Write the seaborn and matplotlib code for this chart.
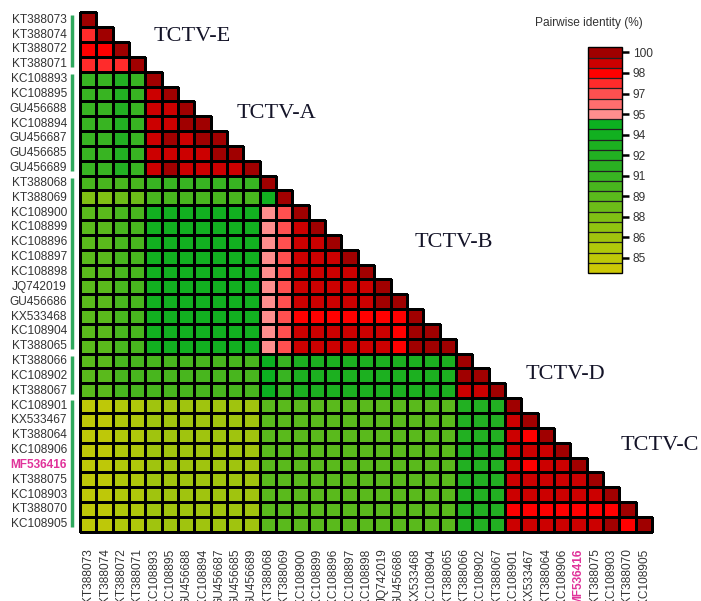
import numpy as np
import pandas as pd
import matplotlib
matplotlib.use("Agg")
import matplotlib.pyplot as plt
import seaborn as sns
from matplotlib.colors import ListedColormap, BoundaryNorm

# ---------------- data ----------------
labels_E = ["KT388073", "KT388074", "KT388072", "KT388071"]
labels_A = ["KC108893", "KC108895", "GU456688", "KC108894", "GU456687", "GU456685", "GU456689"]
labels_B = ["KT388068", "KT388069", "KC108900", "KC108899", "KC108896", "KC108897",
            "KC108898", "JQ742019", "GU456686", "KX533468", "KC108904", "KT388065"]
labels_D = ["KT388066", "KC108902", "KT388067"]
labels_C = ["KC108901", "KX533467", "KT388064", "KC108906", "MF536416", "KT388075",
            "KC108903", "KT388070", "KC108905"]

group_names = ["TCTV-E", "TCTV-A", "TCTV-B", "TCTV-D", "TCTV-C"]
group_label_x = [6.85, 12.0, 22.9, 29.7, 35.5]
group_label_y = [1.6, 6.8, 15.5, 24.4, 29.2]
highlight = "MF536416"

# lower-triangle pairwise identity (%) rows
rows_E = [
    [100.0],
    [97.8, 100.0],
    [98.5, 98.5, 100.0],
    [97.8, 97.8, 98.0, 100.0],
]
rows_A = [
    [91.0, 91.0, 92.5, 91.0, 100.0],
    [91.0, 91.0, 92.5, 91.0, 99.2, 100.0],
    [91.0, 91.0, 92.5, 91.0, 99.2, 99.2, 100.0],
    [91.0, 91.0, 92.5, 91.0, 99.2, 99.2, 99.7, 100.0],
    [91.0, 91.0, 92.5, 91.0, 99.2, 99.7, 99.2, 99.7, 100.0],
    [91.0, 91.0, 92.5, 91.0, 99.2, 99.2, 99.2, 99.2, 99.7, 100.0],
    [91.0, 91.0, 92.5, 91.0, 99.2, 99.7, 99.2, 99.2, 99.2, 99.2, 100.0],
]
rows_B = [
    [90.3, 90.3, 90.3, 90.3, 91.0, 91.0, 91.0, 91.0, 91.0, 91.0, 91.0, 100.0],
    [88.0, 88.0, 88.8, 88.8, 90.3, 90.3, 90.3, 90.3, 90.3, 90.3, 90.3, 93.8, 100.0],
    [89.5, 89.5, 90.3, 90.3, 94.0, 94.0, 94.0, 94.0, 94.0, 94.0, 94.0, 95.5, 97.0, 100.0],
    [89.5, 89.5, 90.3, 90.3, 94.0, 94.0, 94.0, 94.0, 94.0, 94.0, 94.0, 95.5, 97.0, 99.2, 100.0],
    [89.5, 89.5, 90.3, 90.3, 94.0, 94.0, 94.0, 94.0, 94.0, 94.0, 94.0, 95.5, 97.0, 99.2, 99.2, 100.0],
    [89.5, 89.5, 90.3, 90.3, 94.0, 94.0, 94.0, 94.0, 94.0, 94.0, 94.0, 95.5, 97.0, 99.2, 99.2, 99.2, 100.0],
    [89.5, 89.5, 90.3, 90.3, 94.0, 94.0, 94.0, 94.0, 94.0, 94.0, 94.0, 95.5, 97.0, 99.2, 99.2, 99.2, 99.2, 100.0],
    [89.5, 89.5, 90.3, 90.3, 94.0, 94.0, 94.0, 94.0, 94.0, 94.0, 94.0, 95.5, 97.0, 99.2, 99.2, 99.2, 99.2, 99.2, 100.0],
    [89.5, 89.5, 90.3, 90.3, 94.0, 94.0, 94.0, 94.0, 94.0, 94.0, 94.0, 95.5, 97.0, 99.2, 99.2, 99.2, 99.2, 99.2, 99.7, 100.0],
    [89.5, 89.5, 90.3, 90.3, 94.0, 94.0, 94.0, 94.0, 94.0, 94.0, 94.0, 95.4, 97.0, 98.5, 98.5, 98.5, 98.5, 98.5, 98.5, 98.5, 100.0],
    [89.5, 89.5, 90.3, 90.3, 94.0, 94.0, 94.0, 94.0, 94.0, 94.0, 94.0, 95.5, 97.0, 99.2, 99.2, 99.2, 99.2, 99.2, 99.2, 98.5, 99.7, 100.0],
    [89.5, 89.5, 90.3, 90.3, 94.0, 94.0, 94.0, 94.0, 94.0, 94.0, 94.0, 95.5, 97.0, 99.2, 99.2, 99.2, 99.2, 99.2, 99.2, 98.5, 99.7, 99.7, 100.0],
]
rows_D = [
    [89.5, 89.5, 90.3, 90.3, 90.3, 90.3, 90.3, 90.3, 90.3, 90.3, 90.3,
     94.8, 91.0, 93.3, 93.3, 93.3, 93.3, 93.3, 93.3, 93.3, 93.3, 93.3, 93.3, 100.0],
    [89.5, 89.5, 90.3, 90.3, 90.3, 90.3, 90.3, 90.3, 90.3, 90.3, 90.3,
     94.8, 91.0, 93.3, 93.3, 93.3, 93.3, 93.3, 93.3, 93.3, 93.3, 93.3, 93.3, 99.7, 100.0],
    [89.5, 89.5, 90.3, 90.3, 90.3, 90.3, 90.3, 90.3, 90.3, 90.3, 90.3,
     94.8, 91.0, 93.3, 93.3, 93.3, 93.3, 93.3, 93.3, 93.3, 93.3, 93.3, 93.3, 99.2, 99.2, 100.0],
]
rows_C = [
    [85.0, 85.0, 85.8, 85.8, 86.5, 86.5, 86.5, 86.5, 86.5, 86.5, 86.5,
     89.5, 89.5, 89.5, 89.5, 89.5, 89.5, 89.5, 89.5, 89.5, 89.5, 89.5, 89.5,
     92.5, 92.5, 92.5, 100.0],
    [85.0, 85.0, 85.8, 85.8, 86.5, 86.5, 86.5, 86.5, 86.5, 86.5, 86.5,
     89.5, 89.5, 89.5, 89.5, 89.5, 89.5, 89.5, 89.5, 89.5, 89.5, 89.5, 89.5,
     92.5, 92.5, 92.5, 99.2, 100.0],
    [85.0, 85.0, 85.8, 85.8, 86.5, 86.5, 86.5, 86.5, 86.5, 86.5, 86.5,
     89.5, 89.5, 89.5, 89.5, 89.5, 89.5, 89.5, 89.5, 89.5, 89.5, 89.5, 89.5,
     92.5, 92.5, 92.5, 99.2, 98.5, 100.0],
    [85.0, 85.0, 85.8, 85.8, 86.5, 86.5, 86.5, 86.5, 86.5, 86.5, 86.5,
     89.5, 89.5, 89.5, 89.5, 89.5, 89.5, 89.5, 89.5, 89.5, 89.5, 89.5, 89.5,
     92.5, 92.5, 92.5, 99.2, 99.2, 99.2, 100.0],
    [85.0, 85.0, 85.8, 85.8, 86.5, 86.5, 86.5, 86.5, 86.5, 86.5, 86.5,
     89.5, 89.5, 89.5, 89.5, 89.5, 89.5, 89.5, 89.5, 89.5, 89.5, 89.5, 89.5,
     92.5, 92.5, 92.5, 99.2, 98.5, 99.2, 99.2, 100.0],
    [85.0, 85.0, 85.8, 85.8, 86.5, 86.5, 86.5, 86.5, 86.5, 86.5, 86.5,
     89.5, 89.5, 89.5, 89.5, 89.5, 89.5, 89.5, 89.5, 89.5, 89.5, 89.5, 89.5,
     92.5, 92.5, 92.5, 99.2, 99.2, 99.2, 99.2, 99.2, 100.0],
    [85.0, 85.0, 85.8, 85.8, 86.5, 86.5, 86.5, 86.5, 86.5, 86.5, 86.5,
     89.5, 89.5, 89.5, 89.5, 89.5, 89.5, 89.5, 89.5, 89.5, 89.5, 89.5, 89.5,
     92.5, 92.5, 92.5, 99.2, 99.2, 99.2, 99.2, 99.2, 99.2, 100.0],
    [85.0, 85.0, 85.8, 85.8, 86.5, 86.5, 86.5, 86.5, 86.5, 86.5, 86.5,
     89.5, 89.5, 89.5, 89.5, 89.5, 89.5, 89.5, 89.5, 89.5, 89.5, 89.5, 89.5,
     92.5, 92.5, 92.5, 98.5, 98.5, 98.5, 98.5, 98.5, 98.5, 98.5, 100.0],
    [85.0, 85.0, 85.8, 85.8, 86.5, 86.5, 86.5, 86.5, 86.5, 86.5, 86.5,
     89.5, 89.5, 89.5, 89.5, 89.5, 89.5, 89.5, 89.5, 89.5, 89.5, 89.5, 89.5,
     92.5, 92.5, 92.5, 99.2, 99.2, 99.2, 99.2, 99.2, 99.2, 99.7, 98.5, 100.0],
]

# colour key (top -> bottom), 22 bins of 0.75 %
cbar_colors = ["#a00000", "#cc0000", "#ff0000", "#ff2b2b", "#ff5050", "#ff6e6e", "#ff8e8e",
               "#0cb020", "#12b020", "#1cb020", "#22b022", "#2ab022", "#38b422", "#48b61e",
               "#5aba1c", "#6cbc18", "#80c014", "#90c410", "#a0c40e", "#b0c80a", "#bec808",
               "#ccc806"]
cbar_min = 83.875
cbar_step = 0.75
cbar_tick_values = [100, 98.5, 97, 95.5, 94, 92.5, 91, 89.5, 88, 86.5, 85]
cbar_tick_labels = ["100", "98", "97", "95", "94", "92", "91", "89", "88", "86", "85"]

# ---------------- build ----------------
groups = [labels_E, labels_A, labels_B, labels_D, labels_C]
labels = sum(groups, [])
rows = rows_E + rows_A + rows_B + rows_D + rows_C
n = len(labels)
mat = np.full((n, n), np.nan)
for i, r in enumerate(rows):
    mat[i, :len(r)] = r
df = pd.DataFrame(mat, index=labels, columns=labels)
mask = np.triu(np.ones((n, n), dtype=bool), k=1)

sns.set_theme(style="white")
plt.rcParams['font.family'] = ['Liberation Sans', 'DejaVu Sans']

W, H = 701, 601
fig = plt.figure(figsize=(W / 100, H / 100), dpi=100)
ax = fig.add_axes([80 / W, (H - 531.7) / H, 572 / W, 519.4 / H])
cax = fig.add_axes([588.3 / W, (H - 273.3) / H, 33.4 / W, 226 / H])

bounds = cbar_min + cbar_step * np.arange(len(cbar_colors) + 1)
cmap = ListedColormap(cbar_colors[::-1])
cmap.set_bad((1, 1, 1, 0))
norm = BoundaryNorm(bounds, cmap.N)

sns.heatmap(df, mask=mask, cmap=cmap, norm=norm, linewidths=0.8, linecolor="#000000",
            ax=ax, cbar=True, cbar_ax=cax,
            cbar_kws=dict(ticks=cbar_tick_values, drawedges=True),
            xticklabels=True, yticklabels=True)
mesh = ax.collections[0]
# draw cell borders only for the visible (lower-triangle) cells
edge_cols = np.zeros((n * n, 4))
edge_cols[:, 3] = np.where(mask.ravel(), 0.0, 1.0)
mesh.set_edgecolors(edge_cols)
mesh.set_clip_on(False)
for sp in ax.spines.values():
    sp.set_visible(False)

ax.set_xlabel("")
ax.set_ylabel("")
ax.set_yticklabels(labels, rotation=0)
ax.set_xticklabels(labels, rotation=90)
ax.tick_params(axis="both", length=0, labelsize=8.6, labelcolor="#333333")
ax.tick_params(axis="y", pad=9.5)
ax.tick_params(axis="x", pad=12)
for t in ax.get_xticklabels() + ax.get_yticklabels():
    if t.get_text() == highlight:
        t.set_color("#e0339a")
        t.set_fontweight("bold")

# group bars beside row labels
start = 0
for g in groups:
    ax.plot([-0.014, -0.014], [start + 0.15, start + len(g) - 0.3],
            transform=ax.get_yaxis_transform(), color="#2ea85c", lw=2.5,
            clip_on=False, solid_capstyle="butt")
    start += len(g)

for name, gx, gy in zip(group_names, group_label_x, group_label_y):
    ax.text(gx, gy, name, fontsize=16, family="Liberation Serif", ha="center",
            va="center", color="#141428", clip_on=False)

# colour bar styling
cbar = mesh.colorbar
cbar.set_ticks(cbar_tick_values)
cbar.set_ticklabels(cbar_tick_labels)
cbar.minorticks_off()
cbar.outline.set_edgecolor("black")
cbar.outline.set_linewidth(1.0)
cbar.dividers.set_color("#222222")
cbar.dividers.set_linewidth(0.9)
cax.yaxis.set_ticks_position("right")
cax.tick_params(axis="y", which="major", direction="out", length=5, width=1.8, pad=3,
                labelsize=8.6, labelcolor="#333333", color="black", left=False, right=True)

fig.text(643 / W, 1 - 23 / H, "Pairwise identity (%)", ha="right", va="center",
         fontsize=8.6, color="#333333")

fig.savefig("out.png", dpi=100)
